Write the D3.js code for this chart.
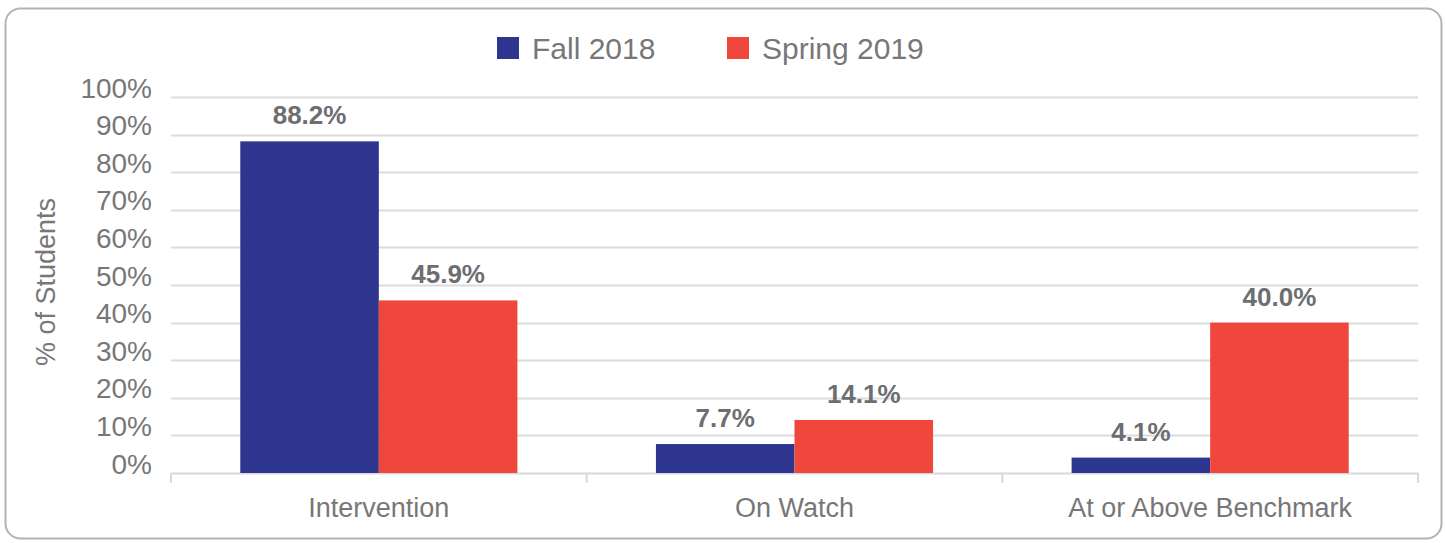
<!DOCTYPE html>
<html>
<head>
<meta charset="utf-8">
<script src="https://cdn.jsdelivr.net/npm/d3@7"></script>
<style>
  body { margin: 0; background: #fff; }
  text { font-family: "Liberation Sans", Arial, sans-serif; }
</style>
</head>
<body>
<div id="chart-area"></div>
<script>
var categories = ["Intervention", "On Watch", "At or Above Benchmark"];
var seriesNames = ["Fall 2018", "Spring 2019"];
var fall2018 = [88.2, 7.7, 4.1];
var spring2019 = [45.9, 14.1, 40.0];
var yTicks = [0, 10, 20, 30, 40, 50, 60, 70, 80, 90, 100];
var colors = ["#2e368f", "#f0473c"];

var data = categories.map(function(c, i){
    return {name: c, values: [fall2018[i], spring2019[i]]};
});

var W = 1445, H = 543;
var margin = {left: 171, right: 27, top: 97, bottom: 70};
var width = W - margin.left - margin.right;
var height = H - margin.top - margin.bottom;

var svg = d3.select("#chart-area")
    .append("svg")
    .attr("width", W)
    .attr("height", H);

// outer frame
svg.append("rect")
    .attr("x", 5.5)
    .attr("y", 8.5)
    .attr("width", 1436)
    .attr("height", 530)
    .attr("rx", 15)
    .attr("fill", "#fff")
    .attr("stroke", "#b3b3b3")
    .attr("stroke-width", 2);

var g = svg.append("g")
    .attr("transform", "translate(" + margin.left + "," + margin.top + ")");

var x = d3.scaleBand()
    .domain(categories)
    .range([0, width]);

var x1 = d3.scaleBand()
    .domain(seriesNames)
    .range([0, x.bandwidth()])
    .paddingOuter(0.5)
    .paddingInner(0);

var y = d3.scaleLinear()
    .domain([0, 100])
    .range([height, 0]);

// gridlines
g.selectAll(".grid")
    .data(yTicks.filter(function(d){ return d > 0; }))
    .enter()
    .append("line")
    .attr("class", "grid")
    .attr("x1", 0)
    .attr("x2", width)
    .attr("y1", function(d){ return Math.round(y(d)) + 0.5; })
    .attr("y2", function(d){ return Math.round(y(d)) + 0.5; })
    .attr("stroke", "#dcdcdc")
    .attr("stroke-width", 2);

// y tick labels
var yAxisCall = d3.axisLeft(y)
    .tickValues(yTicks)
    .tickSize(0)
    .tickPadding(19)
    .tickFormat(function(d){ return d + "%"; });
var yAxis = g.append("g")
    .attr("class", "y axis")
    .call(yAxisCall);
yAxis.select(".domain").remove();
yAxis.selectAll("text")
    .attr("dy", 0)
    .attr("font-size", "28px")
    .attr("font-family", "Liberation Sans, Arial, sans-serif")
    .attr("fill", "#777777");

// x axis
var xAxisCall = d3.axisBottom(x)
    .tickSize(0)
    .tickPadding(25);
var xAxis = g.append("g")
    .attr("class", "x axis")
    .attr("transform", "translate(0," + height + ")")
    .call(xAxisCall);
xAxis.select(".domain")
    .attr("stroke", "#d9d9d9")
    .attr("stroke-width", 2);
xAxis.selectAll("text")
    .attr("font-size", "27px")
    .attr("font-family", "Liberation Sans, Arial, sans-serif")
    .attr("fill", "#777777");

// separator ticks between categories
var sepPos = categories.map(function(c){ return x(c); }).concat([width]);
xAxis.selectAll(".sep")
    .data(sepPos)
    .enter()
    .append("line")
    .attr("class", "sep")
    .attr("x1", function(d){ return d; })
    .attr("x2", function(d){ return d; })
    .attr("y1", 0)
    .attr("y2", 10)
    .attr("stroke", "#d9d9d9")
    .attr("stroke-width", 2);

// bars
var groups = g.selectAll(".cat")
    .data(data)
    .enter()
    .append("g")
    .attr("class", "cat")
    .attr("transform", function(d){ return "translate(" + x(d.name) + ",0)"; });

groups.selectAll("rect")
    .data(function(d){ return d.values.map(function(v, i){ return {s: seriesNames[i], v: v, i: i}; }); })
    .enter()
    .append("rect")
    .attr("x", function(d){ return x1(d.s); })
    .attr("y", function(d){ return y(d.v); })
    .attr("width", x1.bandwidth())
    .attr("height", function(d){ return height - y(d.v); })
    .attr("fill", function(d){ return colors[d.i]; });

groups.selectAll(".val")
    .data(function(d){ return d.values.map(function(v, i){ return {s: seriesNames[i], v: v, i: i}; }); })
    .enter()
    .append("text")
    .attr("class", "val")
    .attr("x", function(d){ return x1(d.s) + x1.bandwidth() / 2; })
    .attr("y", function(d){ return y(d.v) - 17; })
    .attr("text-anchor", "middle")
    .attr("font-size", "26px")
    .attr("font-weight", "bold")
    .attr("fill", "#6d6e71")
    .text(function(d){ return d.v.toFixed(1) + "%"; });

// y axis title
g.append("text")
    .attr("transform", "rotate(-90)")
    .attr("x", -(y(50) - 3))
    .attr("y", -116)
    .attr("text-anchor", "middle")
    .attr("font-size", "27px")
    .attr("fill", "#777777")
    .text("% of Students");

// legend
var legendX = [497, 727];
var legend = svg.selectAll(".legend")
    .data(seriesNames)
    .enter()
    .append("g")
    .attr("class", "legend")
    .attr("transform", function(d, i){ return "translate(" + legendX[i] + ",37)"; });
legend.append("rect")
    .attr("width", 22)
    .attr("height", 22)
    .attr("fill", function(d, i){ return colors[i]; });
legend.append("text")
    .attr("x", 35)
    .attr("y", 22)
    .attr("font-size", "30px")
    .attr("fill", "#777777")
    .text(function(d){ return d; });
</script>
</body>
</html>
